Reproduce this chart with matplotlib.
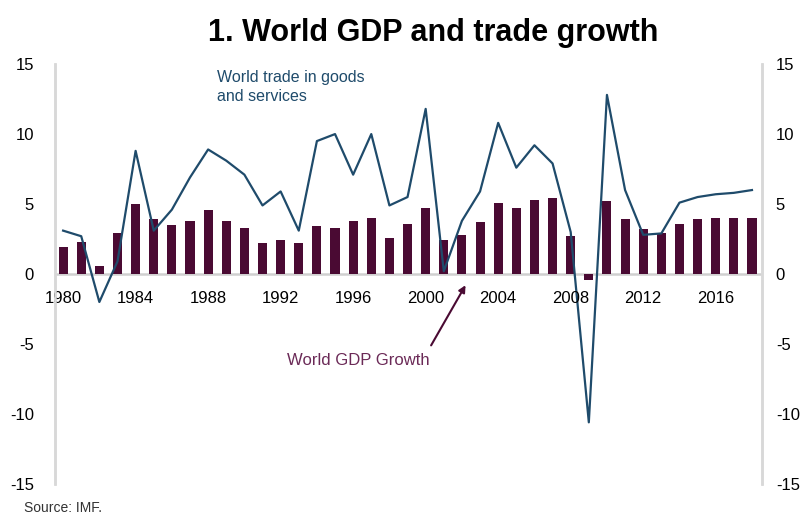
import numpy as np
import matplotlib.pyplot as plt

plt.rcParams['font.family'] = ['Liberation Sans', 'DejaVu Sans']

# 年份与数据（%）
years = list(range(1980, 2019))
gdp_growth = [1.9, 2.3, 0.6, 2.9, 5.0, 3.9, 3.5, 3.8, 4.6, 3.8,
              3.3, 2.2, 2.4, 2.2, 3.4, 3.3, 3.8, 4.0, 2.6, 3.6,
              4.7, 2.4, 2.8, 3.7, 5.1, 4.7, 5.3, 5.4, 2.7, -0.4,
              5.2, 3.9, 3.2, 2.9, 3.6, 3.9, 4.0, 4.0, 4.0]
trade_growth = [3.1, 2.7, -2.0, 0.9, 8.8, 3.1, 4.6, 6.9, 8.9, 8.1,
                7.1, 4.9, 5.9, 3.1, 9.5, 10.0, 7.1, 10.0, 4.9, 5.5,
                11.8, 0.2, 3.8, 5.9, 10.8, 7.6, 9.2, 7.9, 3.0, -10.6,
                12.8, 6.0, 2.8, 2.9, 5.1, 5.5, 5.7, 5.8, 6.0]
xtick_years = list(range(1980, 2017, 4))
yticks = [-15, -10, -5, 0, 5, 10, 15]

bar_color = '#4a0a33'
line_color = '#1f4b6b'

fig = plt.figure(figsize=(8.08, 5.17), dpi=100)
ax = fig.add_axes([0.068, 0.064, 0.875, 0.812])

ax.bar(years, gdp_growth, width=0.5, color=bar_color, zorder=2)
ax.plot(years, trade_growth, color=line_color, linewidth=1.6, zorder=3)
ax.axhline(0, color='#d0d0d0', linewidth=1.8, zorder=1)

ax.set_xlim(1979.55, 2018.55)
ax.set_ylim(-15, 15)
ax.set_yticks(yticks)
ax.set_yticklabels([str(v) for v in yticks], fontsize=12)
ax.tick_params(axis='y', length=0, pad=15)
ax.set_xticks([])

# 右侧坐标轴
ax2 = ax.twinx()
ax2.set_ylim(-15, 15)
ax2.set_yticks(yticks)
ax2.set_yticklabels([str(v) for v in yticks], fontsize=12)
ax2.tick_params(axis='y', length=0, pad=10)

for a in (ax, ax2):
    for s in ('top', 'bottom'):
        a.spines[s].set_visible(False)
    a.spines['left'].set_color('#d8d8d8')
    a.spines['right'].set_color('#d8d8d8')
    a.spines['left'].set_linewidth(1.8)
    a.spines['right'].set_linewidth(1.8)

# 年份标签放在零线下方
for yr in xtick_years:
    ax.text(yr, -1.2, str(yr), ha='center', va='top', fontsize=12)

ax.text(1988.5, 14.6, 'World trade in goods\nand services', color=line_color,
        fontsize=11.5, ha='left', va='top', linespacing=1.35)

# GDP 增长的标注与箭头
ax.text(1996.3, -6.2, 'World GDP Growth', color='#6b2a57', fontsize=12,
        ha='center', va='center')
ax.annotate('', xy=(2002.2, -0.8), xytext=(2000.3, -5.1),
            arrowprops=dict(arrowstyle='-|>', color='#4a0a33', lw=1.5,
                            mutation_scale=10, shrinkA=0, shrinkB=0))

fig.text(0.536, 0.936, '1. World GDP and trade growth', ha='center', va='center',
         fontsize=22, fontweight='bold')
fig.text(0.03, 0.018, 'Source: IMF.', ha='left', va='center', fontsize=10,
         color='#333333')

plt.savefig('out.png', dpi=100)
